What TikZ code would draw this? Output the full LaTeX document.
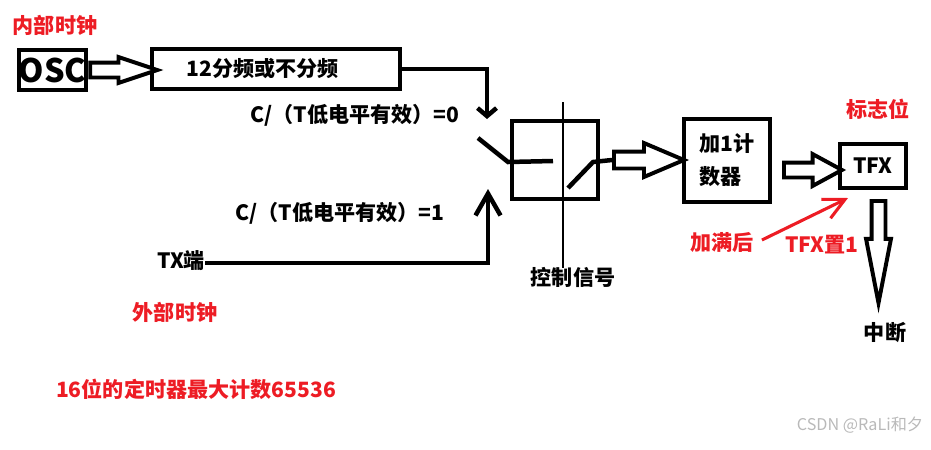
\documentclass[tikz,border=0pt]{standalone}
\usepackage{fontspec}
\setmainfont{Noto Sans CJK SC}
\usetikzlibrary{arrows.meta,shapes.arrows}
\definecolor{markred}{RGB}{237,28,36}
\definecolor{wmgray}{RGB}{185,185,185}
\newcommand{\unitpx}{0.025cm}

\begin{document}
\begin{tikzpicture}[x=0.025cm, y=-0.025cm,
    box/.style={draw, line width=2.8pt, inner sep=0pt},
    txt/.style={font=\fontsize{15}{18}\selectfont\bfseries, text height=0.88em, text depth=0.12em, inner sep=0pt},
    note/.style={txt, text=markred},
    hollow/.style={single arrow, draw, line width=2.8pt, fill=white, inner xsep=0pt, minimum width=0pt, single arrow head indent=0pt, anchor=tail},
    wire/.style={line width=3.2pt}]
    \useasboundingbox (0,0) rectangle (931,449);

    % clock source and divider
    \node[note] (intclk) at (55,28) {内部时钟};
    \node[box, minimum width=65*\unitpx, minimum height=40*\unitpx, font=\fontsize{23}{23}\selectfont\bfseries] (osc) at (52.5,70) {OSC};
    \node[box, minimum width=248*\unitpx, minimum height=40*\unitpx] (div) at (276,69) {};
    \node[txt] (divtxt) at (262.5,71) {12分频或不分频};
    \node[hollow, minimum height=67*\unitpx, inner ysep=5.5*\unitpx, single arrow head extend=5.5*\unitpx, single arrow tip angle=37] (oscarr) at (osc.east) {};

    % C/T select
    \coordinate (in0) at (487,119);
    \coordinate (in1) at (488,189);
    \node[txt] (sel0) at (355,117) {C/（T低电平有效）=0};
    \node[txt] (sel1) at (340,215) {C/（T低电平有效）=1};
    \node[txt] (tx) at (181,263) {TX端};
    \node[note] (extclk) at (175,315) {外部时钟};
    \draw[wire, -{Straight Barb[length=5.7pt, width=13.5pt]}] (div.east) -| (in0);
    \draw[wire, -{Straight Barb[length=15.6pt, width=17.8pt]}] (tx.east) -| (in1);

    % switch and control signal
    \node[box, minimum width=86*\unitpx, minimum height=78*\unitpx] (sw) at (555,160) {};
    \draw[line width=0.8pt] (563,102) -- (563,268);
    \node[txt] (ctl) at (573,280) {控制信号};
    \draw[wire] (478,138) -- (508,162) -- (553,161);
    \node[hollow, minimum height=70*\unitpx, inner ysep=6.5*\unitpx, single arrow head extend=8.5*\unitpx, single arrow tip angle=46] (swarr) at (612,160) {};
    \draw[wire] (568,188) -- (593,162) -- (swarr.tail);

    % counter and overflow flag
    \node[box, minimum width=86*\unitpx, minimum height=83*\unitpx, txt, align=left, font=\fontsize{15}{23.5}\selectfont\bfseries, text height=, text depth=] (cnt) at (727,160.5) {加1计\\数器};
    \node[hollow, minimum height=58*\unitpx, inner ysep=5.5*\unitpx, single arrow head extend=8.5*\unitpx, single arrow tip angle=57] (cntarr) at (782,170) {};
    \node[box, minimum width=66*\unitpx, minimum height=44*\unitpx, font=\fontsize{15}{18}\selectfont\bfseries] (tfx) at (873,166) {TFX};
    \node[note] (flag) at (878,112) {标志位};
    \node[hollow, shape border rotate=270, minimum height=102*\unitpx, inner xsep=5*\unitpx, inner ysep=0pt, single arrow head extend=5.5*\unitpx, single arrow tip angle=22] (intarr) at (878.5,199) {};
    \node[txt] (irq) at (885,335) {中断};

    % overflow sets TFX
    \node[note] (full) at (722,245) {加满后};
    \node[note] (setone) at (822,247) {TFX置1};
    \coordinate (setin) at (848,198);
    \draw[markred, line width=2.2pt, -{Straight Barb[length=15pt, width=15pt]}] ([shift={(8,-5)}]full.east) -- (setin);

    \node[note] (maxcnt) at (196,392) {16位的定时器最大计数65536};
    \node[font=\fontsize{11.5}{12}\selectfont, text=wmgray] (wm) at (860,425) {CSDN @RaLi和夕};
\end{tikzpicture}
\end{document}
